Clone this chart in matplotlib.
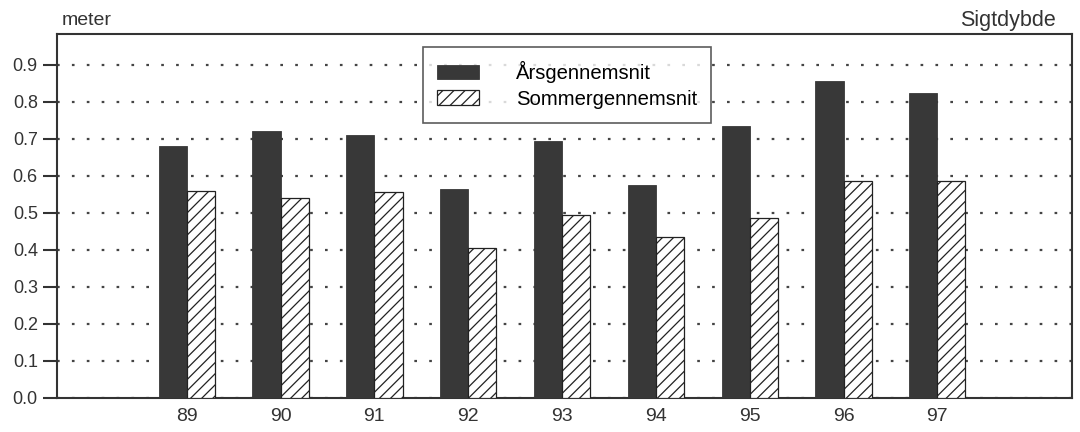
import matplotlib.pyplot as plt
import numpy as np

plt.rcParams['font.family'] = ['Liberation Sans', 'DejaVu Sans']

# data
years = ['89', '90', '91', '92', '93', '94', '95', '96', '97']
aars_snit = [0.68, 0.72, 0.71, 0.565, 0.695, 0.575, 0.735, 0.855, 0.825]
sommer_snit = [0.56, 0.54, 0.555, 0.405, 0.495, 0.435, 0.485, 0.585, 0.585]
y_ticks = [0.0, 0.1, 0.2, 0.3, 0.4, 0.5, 0.6, 0.7, 0.8, 0.9]

fig = plt.figure(figsize=(10.8, 4.32), dpi=100)
ax = fig.add_axes([0.053, 0.079, 0.940, 0.843])

x = np.arange(len(years))
w = 0.3
dark = '#383838'

plt.rcParams['hatch.linewidth'] = 0.9
ax.bar(x - w / 2, aars_snit, w, color=dark, edgecolor=dark, linewidth=0.6,
       label='Årsgennemsnit', zorder=3)
ax.bar(x + w / 2, sommer_snit, w, color='white', edgecolor='#222222',
       hatch='///', linewidth=0.9, label='Sommergennemsnit', zorder=3)

ax.set_xlim(-1.38, 9.44)
ax.set_ylim(0, 0.984)
ax.set_yticks(y_ticks)
ax.set_yticklabels([f'{v:.1f}' for v in y_ticks])
ax.set_xticks(x)
ax.set_xticklabels(years)
ax.tick_params(axis='x', length=0, labelsize=14, pad=7, colors='#333333')
ax.tick_params(axis='y', length=10, width=1.5, labelsize=13, pad=4,
               colors='#333333')

ax.yaxis.grid(True, linestyle=(0, (1.2, 5.5)), linewidth=1.6, color='#444444',
              zorder=0)
for sp in ax.spines.values():
    sp.set_linewidth(1.5)
    sp.set_color('#333333')

fig.text(0.057, 0.953, 'meter', fontsize=14, color='#333333', va='center')
fig.text(0.978, 0.953, 'Sigtdybde', fontsize=15.5, color='#333333',
         va='center', ha='right')

leg = ax.legend(loc='upper left', bbox_to_anchor=(0.360, 0.963),
                fontsize=14.6, frameon=True, fancybox=False, edgecolor='#333333',
                handlelength=2.1, handleheight=0.75, handletextpad=1.8,
                borderpad=0.68, labelspacing=0.33, borderaxespad=0)
leg.get_frame().set_linewidth(1.2)

fig.savefig('out.png', dpi=100)
